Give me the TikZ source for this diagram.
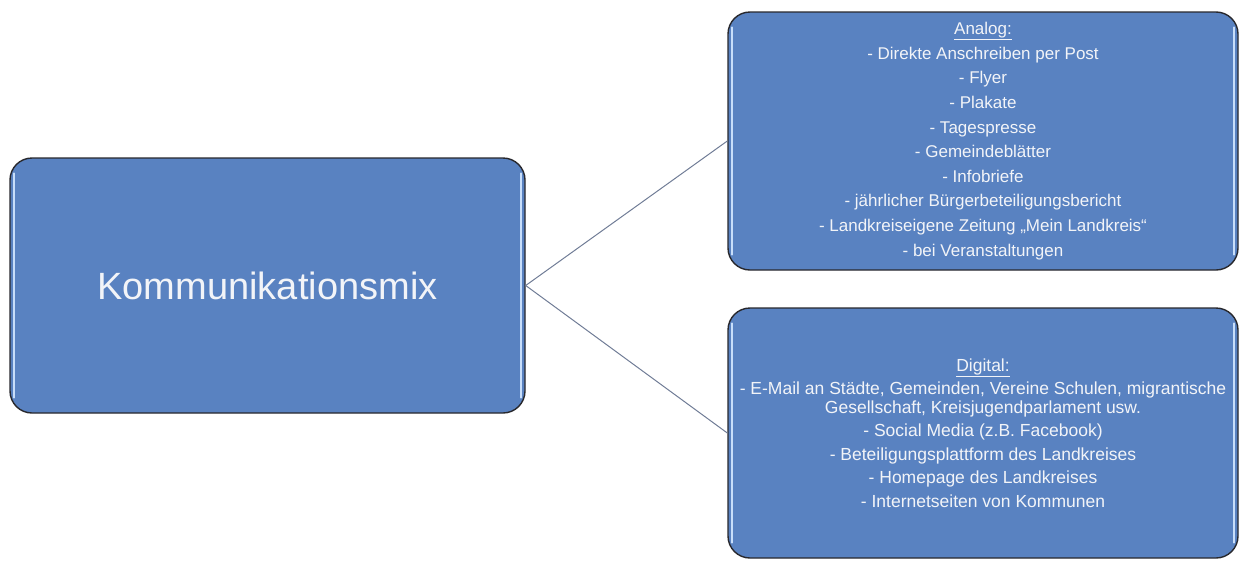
\documentclass[tikz,border=0pt]{standalone}
\usepackage{fontspec}
\setmainfont{Liberation Sans}
\usepackage{tikz}

\definecolor{kastenblau}{RGB}{89,130,193}
\definecolor{randgrau}{RGB}{40,40,45}
\definecolor{liniengrau}{RGB}{112,124,150}
\definecolor{schrift}{RGB}{242,244,248}
\definecolor{glanzblau}{RGB}{200,222,250}

\begin{document}
\begin{tikzpicture}[x=1pt, y=-1pt,
    kasten/.style={shape=rectangle, rounded corners=22pt, draw=randgrau, line width=1.4pt,
        fill=kastenblau, text=schrift, align=center, inner sep=0pt},
    glanz/.style={draw=glanzblau, line width=2pt, line cap=round},
    verbindung/.style={draw=liniengrau, line width=1pt}]
    \useasboundingbox (0,0) rectangle (1240,560);
    % Kaesten
    \node[kasten, minimum width=515pt, minimum height=255pt, font=\fontsize{38}{46}\selectfont] at (267.5,285.5) (Mix) {Kommunikationsmix};
    \node[kasten, minimum width=510pt, minimum height=258pt, font=\fontsize{17}{24.6}\selectfont] at (983,141) (Analog) {\underline{Analog:}\\
        - Direkte Anschreiben per Post\\
        - Flyer\\
        - Plakate\\
        - Tagespresse\\
        - Gemeindeblätter\\
        - Infobriefe\\
        - jährlicher Bürgerbeteiligungsbericht\\
        - Landkreiseigene Zeitung „Mein Landkreis“\\
        - bei Veranstaltungen};
    \node[kasten, minimum width=510pt, minimum height=250pt, font=\fontsize{17.5}{19}\selectfont] at (983,433) (Digital) {\underline{Digital:}\\[4pt]
        - E-Mail an Städte, Gemeinden, Vereine Schulen, migrantische\\
        Gesellschaft, Kreisjugendparlament usw.\\[4.5pt]
        - Social Media (z.B. Facebook)\\[4.5pt]
        - Beteiligungsplattform des Landkreises\\[4.5pt]
        - Homepage des Landkreises\\[4.5pt]
        - Internetseiten von Kommunen};
    % Glanzkanten
    \foreach \k in {Mix, Analog, Digital} {
        \draw[glanz] ([xshift=5pt, yshift=-16pt]\k.north west) -- ([xshift=5pt, yshift=16pt]\k.south west);
        \draw[glanz] ([xshift=-5pt, yshift=-16pt]\k.north east) -- ([xshift=-5pt, yshift=16pt]\k.south east);
    }
    % Verbindungen
    \path[verbindung] (Mix.east) edge (Analog.west);
    \path[verbindung] (Mix.east) edge (Digital.west);
\end{tikzpicture}
\end{document}
